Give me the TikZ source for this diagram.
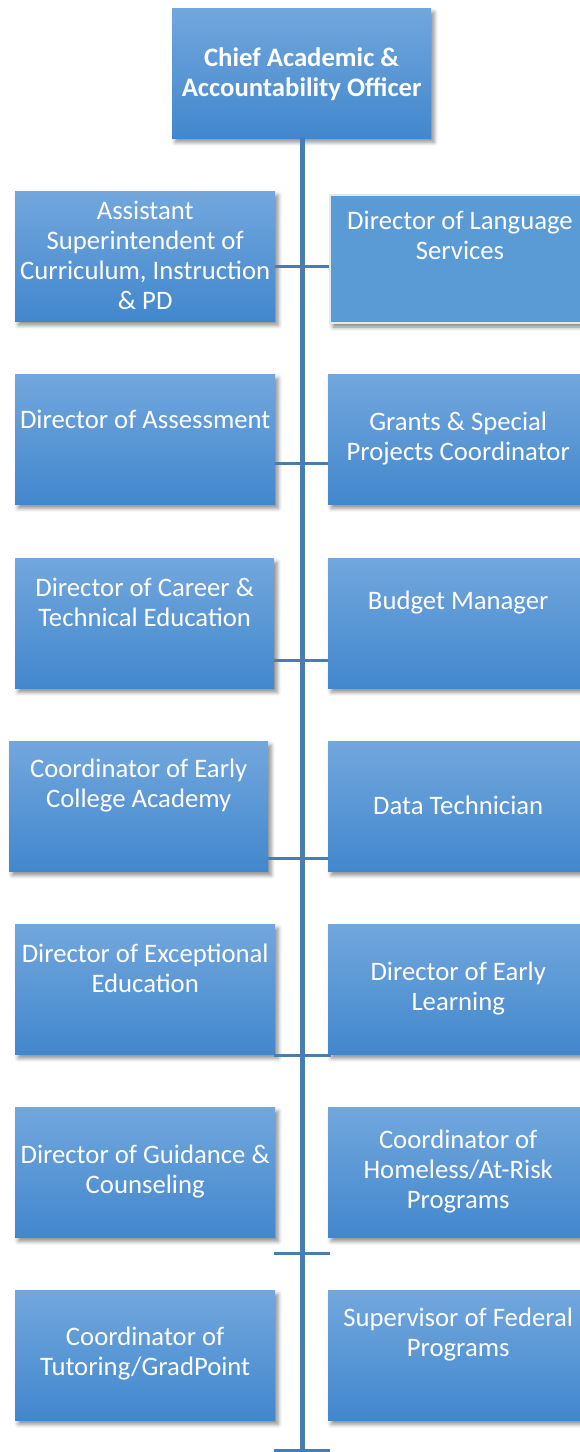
\documentclass[tikz,border=0pt]{standalone}
\usepackage{fontspec}
\setmainfont{Carlito}
\usetikzlibrary{shadows.blur}

\definecolor{boxtop}{RGB}{114,167,221}
\definecolor{boxbottom}{RGB}{66,135,205}
\definecolor{boxflat}{RGB}{91,155,213}
\definecolor{boxrim}{RGB}{228,232,236}
\definecolor{linkblue}{RGB}{72,125,176}

\tikzset{
  orgbox/.style={rectangle, anchor=north west, inner sep=0pt,
    minimum width=260pt, minimum height=130pt,
    top color=boxtop, bottom color=boxbottom,
    blur shadow={shadow xshift=3pt, shadow yshift=-4pt,
      shadow blur radius=4pt, shadow opacity=45}},
  flatbox/.style={rectangle, anchor=north west, inner sep=0pt,
    minimum width=260pt, minimum height=128pt,
    fill=boxflat, draw=boxrim, line width=2pt,
    blur shadow={shadow xshift=3pt, shadow yshift=-4pt,
      shadow blur radius=4pt, shadow opacity=50}},
  lbl/.style={text=white, align=center, inner sep=0pt,
    font=\fontsize{26.7}{30}\selectfont},
  trunk/.style={draw=linkblue, line width=5pt},
  link/.style={draw=linkblue, line width=3pt}
}

\begin{document}
\begin{tikzpicture}[x=1pt,y=1pt]
\useasboundingbox (0,0) rectangle (580,-1452);

% head of the chart
\node[orgbox, minimum width=259pt] (top) at (172,-8) {};
\node[lbl, font=\fontsize{26.7}{30}\selectfont\bfseries] (toptxt) at (top.center |- 0,-74)
  {Chief Academic \&\\Accountability Officer};

% boxes on the left side
\node[orgbox] (l1) at (15,-191) {};
\node[orgbox] (l2) at (15,-374) {};
\node[orgbox, minimum width=259pt] (l3) at (15,-558) {};
\node[orgbox, minimum width=259pt] (l4) at (9,-741) {};
\node[orgbox] (l5) at (15,-924) {};
\node[orgbox] (l6) at (15,-1107) {};
\node[orgbox] (l7) at (15,-1290) {};

% boxes on the right side
\node[flatbox] (r1) at (329,-194) {};
\node[orgbox] (r2) at (328,-374) {};
\node[orgbox] (r3) at (328,-558) {};
\node[orgbox] (r4) at (328,-741) {};
\node[orgbox] (r5) at (328,-924) {};
\node[orgbox] (r6) at (328,-1107) {};
\node[orgbox] (r7) at (328,-1290) {};

% vertical trunk and branch points
\coordinate (trunkend) at (302.5,-1452);
\coordinate (j1) at (302.5,-266);
\coordinate (j2) at (302.5,-463);
\coordinate (j3) at (302.5,-660);
\coordinate (j4) at (302.5,-858);
\coordinate (j5) at (302.5,-1055);
\coordinate (j6) at (302.5,-1253);
\coordinate (j7) at (302.5,-1450);

\draw[trunk] (top.south -| trunkend) -- (trunkend);
\draw[link] (l1.east |- j1) -- (r1.west |- j1);
\draw[link] (l2.east |- j2) -- (r2.west |- j2);
\draw[link] (l3.east |- j3) -- (r3.west |- j3);
\draw[link] (l4.east |- j4) -- (r4.west |- j4);
\draw[link] ([xshift=-28.5pt]j5) -- ([xshift=28.5pt]j5);
\draw[link] ([xshift=-28.5pt]j6) -- ([xshift=27.5pt]j6);
\draw[link] ([xshift=-28.5pt]j7) -- ([xshift=27.5pt]j7);

% titles, left side
\node[lbl] (l1t) at (l1.center |- 0,-255.5)
  {Assistant\\Superintendent of\\Curriculum, Instruction\\\& PD};
\node[lbl] (l2t) at (l2.center |- 0,-419) {Director of Assessment};
\node[lbl] (l3t) at (l3.center |- 0,-602) {Director of Career \&\\Technical Education};
\node[lbl] (l4t) at (l4.center |- 0,-785.5) {Coordinator of Early\\College Academy};
\node[lbl] (l5t) at (l5.center |- 0,-968.5) {Director of Exceptional\\Education};
\node[lbl] (l6t) at (l6.center |- 0,-1172) {Director of Guidance \&\\Counseling};
\node[lbl] (l7t) at (l7.center |- 0,-1354) {Coordinator of\\Tutoring/GradPoint};

% titles, right side
\node[lbl] (r1t) at (r1.center |- 0,-235.5) {Director of Language\\Services};
\node[lbl] (r2t) at (r2.center |- 0,-439) {Grants \& Special\\Projects Coordinator};
\node[lbl] (r3t) at (r3.center |- 0,-602.5) {Budget Manager};
\node[lbl] (r4t) at (r4.center |- 0,-805.5) {Data Technician};
\node[lbl] (r5t) at (r5.center |- 0,-989) {Director of Early\\Learning};
\node[lbl] (r6t) at (r6.center |- 0,-1172) {Coordinator of\\Homeless/At-Risk\\Programs};
\node[lbl] (r7t) at (r7.center |- 0,-1335) {Supervisor of Federal\\Programs};
\end{tikzpicture}
\end{document}
